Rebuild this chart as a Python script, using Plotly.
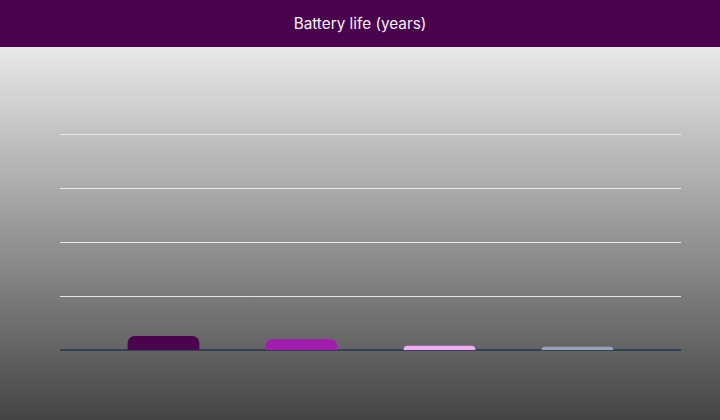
import base64
import plotly.graph_objects as go

# data
devices = ["Device A", "Device B", "Device C", "Device D"]
battery_years = [2.6, 2.0, 0.8, 0.6]
bar_colors = ["#4a044e", "#a21caf", "#f0abfc", "#94a3b8"]

W, H = 720, 420
ml, mr, mt, mb = 60, 39, 110, 70
pw, ph = W - ml - mr, H - mt - mb

# gray gradient background with purple header band
svg = f"""<svg xmlns='http://www.w3.org/2000/svg' width='{W}' height='{H}' preserveAspectRatio='none'>
<defs><linearGradient id='g' x1='0' y1='0' x2='0' y2='1'>
<stop offset='0' stop-color='#e9e9e9'/><stop offset='1' stop-color='#444444'/>
</linearGradient></defs>
<rect x='0' y='47' width='{W}' height='{H-47}' fill='url(#g)'/>
<rect x='0' y='0' width='{W}' height='47' fill='#4a044e'/>
</svg>"""
bg = "data:image/svg+xml;base64," + base64.b64encode(svg.encode()).decode()

fig = go.Figure(go.Bar(
    x=devices,
    y=battery_years,
    marker=dict(color=bar_colors, line=dict(width=0)),
    width=0.52,
    hoverinfo="x+y",
))

fig.update_layout(
    width=W, height=H,
    margin=dict(l=ml, r=mr, t=mt, b=mb),
    paper_bgcolor="rgba(0,0,0,0)",
    plot_bgcolor="rgba(0,0,0,0)",
    barcornerradius=7,
    showlegend=False,
    title=dict(text="Battery life (years)", x=0.5, xanchor="center",
               y=1 - 24 / H, yanchor="middle",
               font=dict(family="Inter", size=15.3, color="#f7f0f7")),
    images=[dict(source=bg, xref="paper", yref="paper",
                 x=-ml / pw, y=1 + mt / ph, sizex=W / pw, sizey=H / ph,
                 xanchor="left", yanchor="top", sizing="stretch", layer="below")],
    xaxis=dict(range=[-0.75, 3.75], showticklabels=False, showgrid=False,
               zeroline=False, showline=False, ticks=""),
    yaxis=dict(range=[0, 40 * ph / 216], dtick=10, showticklabels=False,
               gridcolor="#e2e8f0", gridwidth=1, zeroline=True,
               zerolinecolor="#334155", zerolinewidth=2, ticks=""),
)

fig.write_html("out.html", config={"displayModeBar": False},
               post_script="document.body.style.margin='0';")
